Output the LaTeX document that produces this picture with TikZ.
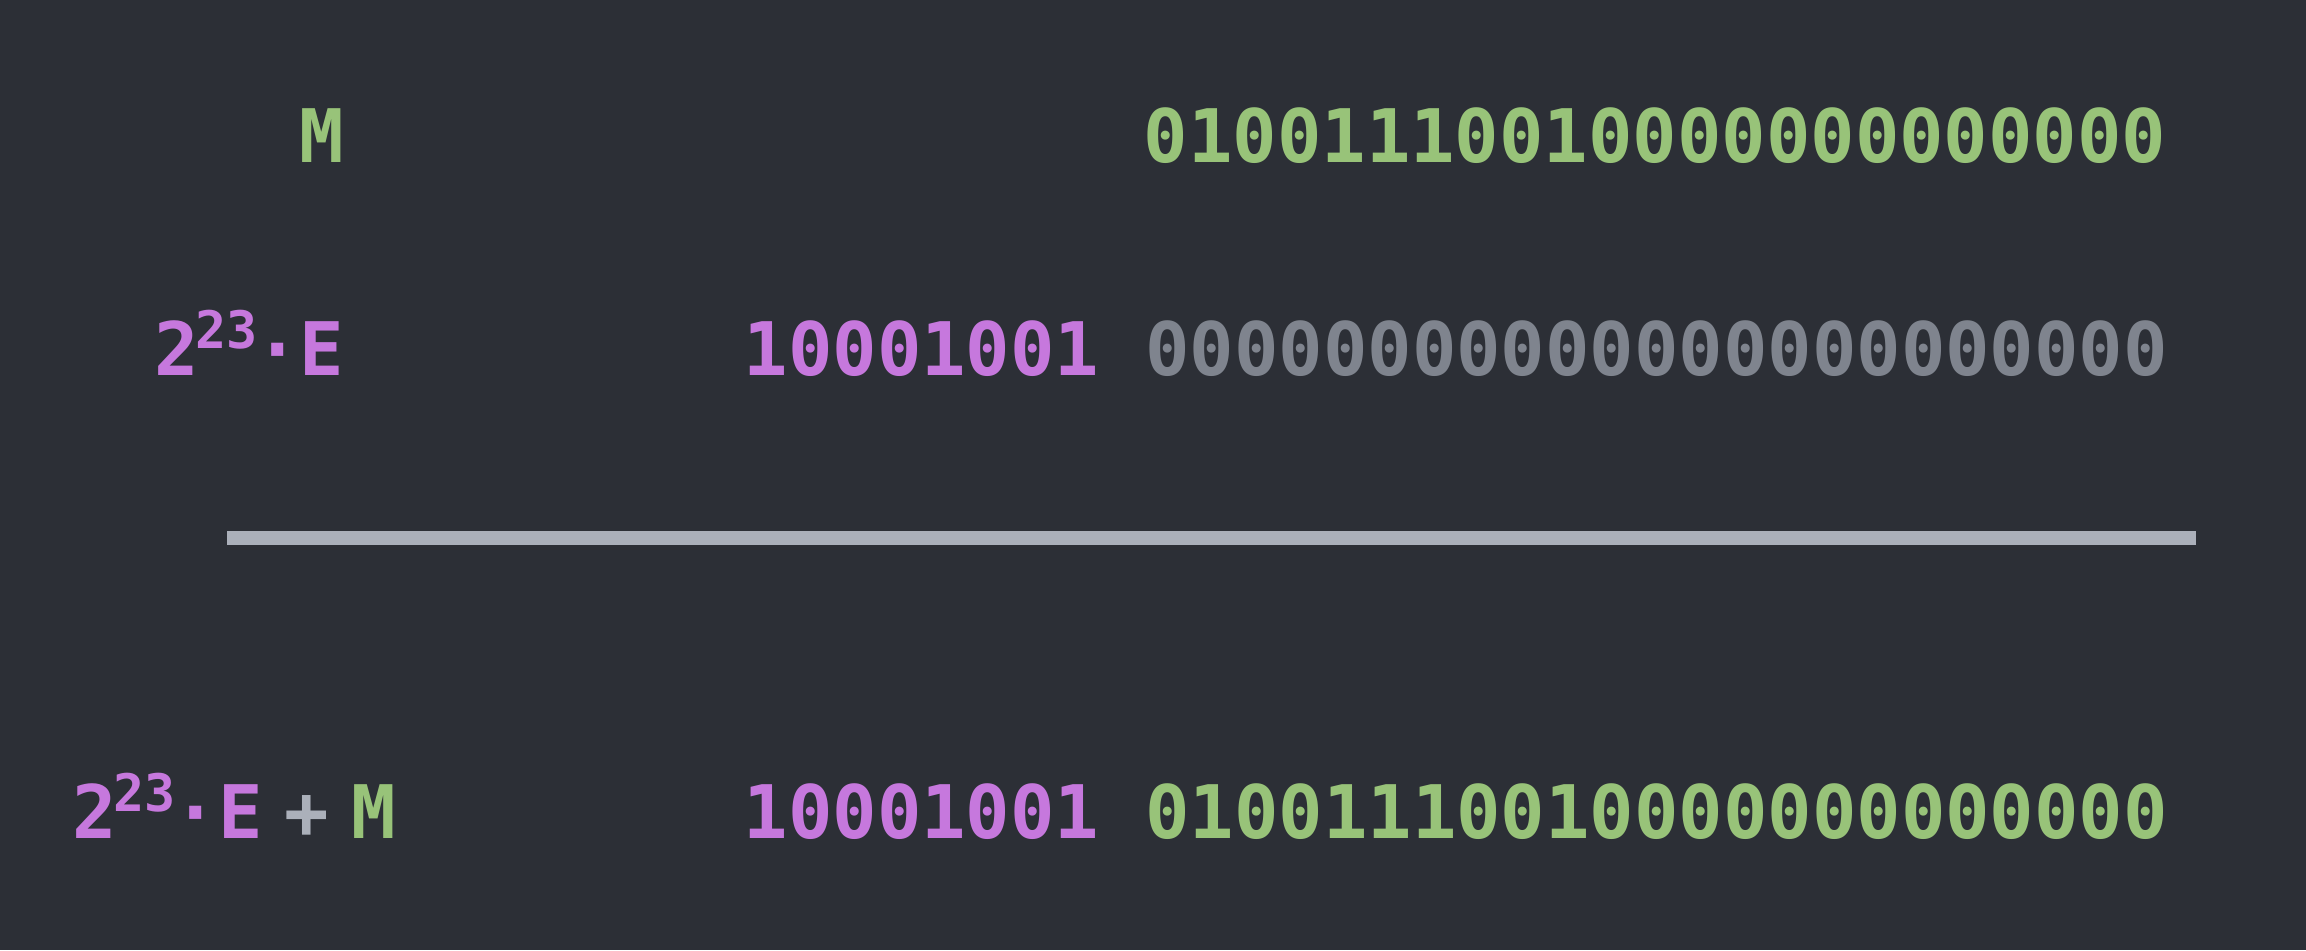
\documentclass[tikz,border=0pt]{standalone}
\usepackage{fontspec}
\setmonofont{DejaVu Sans Mono}
\usetikzlibrary{positioning}

\definecolor{bggray}{HTML}{2C2F36}
\definecolor{mgreen}{HTML}{98C379}
\definecolor{epurple}{HTML}{C678DD}
\definecolor{zerogray}{HTML}{7F848E}
\definecolor{rulegray}{HTML}{ABB0BA}

\newcommand{\expterm}{2\kern-0.05em\textsuperscript{23}\kern-0.05em·E}

\begin{document}
\begin{tikzpicture}[x=0.01cm,y=-0.01cm,
                    every node/.style={inner sep=0pt,
                      font=\ttfamily\bfseries\fontsize{21}{25}\selectfont}]

  \tikzstyle{lhs}=[anchor=base east]
  \tikzstyle{bits}=[anchor=base west]

  \fill[bggray] (0,0) rectangle (2306,950);

  % mantissa
  \node[lhs,text=mgreen]
    (M) at (345,162) {M};
  \node[bits,text=mgreen]
    (Mbits) at (1143,162) {01001110010000000000000};

  % exponent, shifted by 23
  \node[lhs,text=epurple]
    (E) at (345,375) {\expterm};
  \node[bits,text=epurple]
    (Ebits) at (743,375) {10001001};
  \node[text=zerogray]
    (Ezeros) [right=12.64pt of Ebits] {00000000000000000000000};

  % the rule
  \coordinate (barL) at (227,538);
  \coordinate (barR) at (2196,538);
  \draw[rulegray,line width=3.9pt] (barL) -- (barR);

  % sum
  \node[bits]
    (Sum) at (72,838) {\textcolor{epurple}{\expterm}\hspace{0.3em}%
      \textcolor{rulegray}{+}\hspace{0.3em}\textcolor{mgreen}{M}};
  \node[bits,text=epurple]
    (Sbits) at (743,838) {10001001};
  \node[text=mgreen]
    (Smbits) [right=12.64pt of Sbits] {01001110010000000000000};

\end{tikzpicture}
\end{document}
